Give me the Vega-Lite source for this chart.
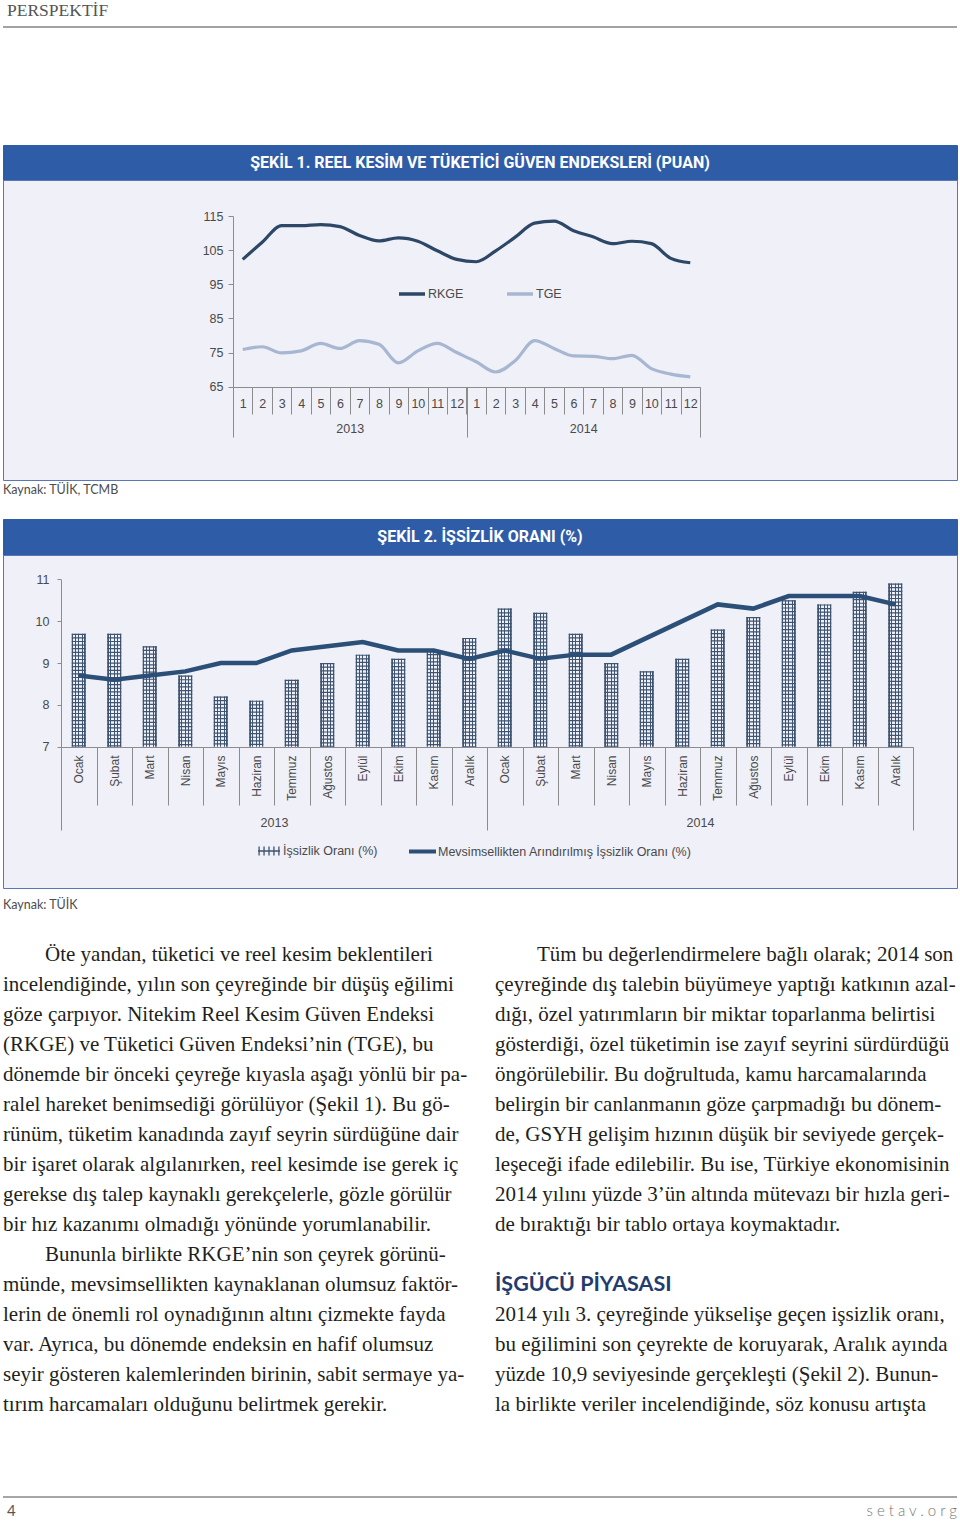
{
  "$schema": "https://vega.github.io/schema/vega-lite/v6.json",
  "background": "white",
  "padding": {"left": -4, "right": 0, "top": 0, "bottom": 0},
  "spacing": 0,
  "bounds": "flush",
  "resolve": {"scale": {"stroke": "independent", "opacity": "independent"}, "legend": {"stroke": "independent", "opacity": "independent"}},
  "config": {"view": {"stroke": null}, "font": "Liberation Sans"},
  "datasets": {
    "confidence": [
      {"month": "2013 1", "series": "RKGE", "value": 102.3},
      {"month": "2013 2", "series": "RKGE", "value": 107.3},
      {"month": "2013 3", "series": "RKGE", "value": 112.2},
      {"month": "2013 4", "series": "RKGE", "value": 112.2},
      {"month": "2013 5", "series": "RKGE", "value": 112.5},
      {"month": "2013 6", "series": "RKGE", "value": 111.9},
      {"month": "2013 7", "series": "RKGE", "value": 109.3},
      {"month": "2013 8", "series": "RKGE", "value": 107.7},
      {"month": "2013 9", "series": "RKGE", "value": 108.6},
      {"month": "2013 10", "series": "RKGE", "value": 107.6},
      {"month": "2013 11", "series": "RKGE", "value": 104.8},
      {"month": "2013 12", "series": "RKGE", "value": 102.3},
      {"month": "2014 1", "series": "RKGE", "value": 101.6},
      {"month": "2014 2", "series": "RKGE", "value": 104.8},
      {"month": "2014 3", "series": "RKGE", "value": 108.8},
      {"month": "2014 4", "series": "RKGE", "value": 112.9},
      {"month": "2014 5", "series": "RKGE", "value": 113.5},
      {"month": "2014 6", "series": "RKGE", "value": 110.7},
      {"month": "2014 7", "series": "RKGE", "value": 108.9},
      {"month": "2014 8", "series": "RKGE", "value": 106.9},
      {"month": "2014 9", "series": "RKGE", "value": 107.6},
      {"month": "2014 10", "series": "RKGE", "value": 106.9},
      {"month": "2014 11", "series": "RKGE", "value": 102.6},
      {"month": "2014 12", "series": "RKGE", "value": 101.3},
      {"month": "2013 1", "series": "TGE", "value": 75.9},
      {"month": "2013 2", "series": "TGE", "value": 76.7},
      {"month": "2013 3", "series": "TGE", "value": 74.9},
      {"month": "2013 4", "series": "TGE", "value": 75.5},
      {"month": "2013 5", "series": "TGE", "value": 77.7},
      {"month": "2013 6", "series": "TGE", "value": 76.2},
      {"month": "2013 7", "series": "TGE", "value": 78.5},
      {"month": "2013 8", "series": "TGE", "value": 77.4},
      {"month": "2013 9", "series": "TGE", "value": 72.0},
      {"month": "2013 10", "series": "TGE", "value": 75.5},
      {"month": "2013 11", "series": "TGE", "value": 77.7},
      {"month": "2013 12", "series": "TGE", "value": 75.0},
      {"month": "2014 1", "series": "TGE", "value": 72.3},
      {"month": "2014 2", "series": "TGE", "value": 69.3},
      {"month": "2014 3", "series": "TGE", "value": 72.6},
      {"month": "2014 4", "series": "TGE", "value": 78.5},
      {"month": "2014 5", "series": "TGE", "value": 76.2},
      {"month": "2014 6", "series": "TGE", "value": 74.0},
      {"month": "2014 7", "series": "TGE", "value": 73.9},
      {"month": "2014 8", "series": "TGE", "value": 73.2},
      {"month": "2014 9", "series": "TGE", "value": 74.2},
      {"month": "2014 10", "series": "TGE", "value": 70.3},
      {"month": "2014 11", "series": "TGE", "value": 68.7},
      {"month": "2014 12", "series": "TGE", "value": 67.9}
    ],
    "unemployment": [
      {"month": "2013 Ocak", "rate": 9.7, "sa": 8.7},
      {"month": "2013 Şubat", "rate": 9.7, "sa": 8.6},
      {"month": "2013 Mart", "rate": 9.4, "sa": 8.7},
      {"month": "2013 Nisan", "rate": 8.7, "sa": 8.8},
      {"month": "2013 Mayıs", "rate": 8.2, "sa": 9.0},
      {"month": "2013 Haziran", "rate": 8.1, "sa": 9.0},
      {"month": "2013 Temmuz", "rate": 8.6, "sa": 9.3},
      {"month": "2013 Ağustos", "rate": 9.0, "sa": 9.4},
      {"month": "2013 Eylül", "rate": 9.2, "sa": 9.5},
      {"month": "2013 Ekim", "rate": 9.1, "sa": 9.3},
      {"month": "2013 Kasım", "rate": 9.3, "sa": 9.3},
      {"month": "2013 Aralık", "rate": 9.6, "sa": 9.1},
      {"month": "2014 Ocak", "rate": 10.3, "sa": 9.3},
      {"month": "2014 Şubat", "rate": 10.2, "sa": 9.1},
      {"month": "2014 Mart", "rate": 9.7, "sa": 9.2},
      {"month": "2014 Nisan", "rate": 9.0, "sa": 9.2},
      {"month": "2014 Mayıs", "rate": 8.8, "sa": 9.6},
      {"month": "2014 Haziran", "rate": 9.1, "sa": 10.0},
      {"month": "2014 Temmuz", "rate": 9.8, "sa": 10.4},
      {"month": "2014 Ağustos", "rate": 10.1, "sa": 10.3},
      {"month": "2014 Eylül", "rate": 10.5, "sa": 10.6},
      {"month": "2014 Ekim", "rate": 10.4, "sa": 10.6},
      {"month": "2014 Kasım", "rate": 10.7, "sa": 10.6},
      {"month": "2014 Aralık", "rate": 10.9, "sa": 10.4}
    ],
    "article": [
      {"col": "L", "line": 0, "kind": "p", "text": "\u200b\u00a0\u00a0\u00a0\u00a0\u00a0\u00a0\u00a0\u00a0Öte yandan, tüketici ve reel kesim beklentileri"},
      {"col": "L", "line": 1, "kind": "p", "text": "incelendiğinde, yılın son çeyreğinde bir düşüş eğilimi"},
      {"col": "L", "line": 2, "kind": "p", "text": "göze çarpıyor. Nitekim Reel Kesim Güven Endeksi"},
      {"col": "L", "line": 3, "kind": "p", "text": "(RKGE) ve Tüketici Güven Endeksi’nin (TGE), bu"},
      {"col": "L", "line": 4, "kind": "p", "text": "dönemde bir önceki çeyreğe kıyasla aşağı yönlü bir pa-"},
      {"col": "L", "line": 5, "kind": "p", "text": "ralel hareket benimsediği görülüyor (Şekil 1). Bu gö-"},
      {"col": "L", "line": 6, "kind": "p", "text": "rünüm, tüketim kanadında zayıf seyrin sürdüğüne dair"},
      {"col": "L", "line": 7, "kind": "p", "text": "bir işaret olarak algılanırken, reel kesimde ise gerek iç"},
      {"col": "L", "line": 8, "kind": "p", "text": "gerekse dış talep kaynaklı gerekçelerle, gözle görülür"},
      {"col": "L", "line": 9, "kind": "p", "text": "bir hız kazanımı olmadığı yönünde yorumlanabilir."},
      {"col": "L", "line": 10, "kind": "p", "text": "\u200b\u00a0\u00a0\u00a0\u00a0\u00a0\u00a0\u00a0\u00a0Bununla birlikte RKGE’nin son çeyrek görünü-"},
      {"col": "L", "line": 11, "kind": "p", "text": "münde, mevsimsellikten kaynaklanan olumsuz faktör-"},
      {"col": "L", "line": 12, "kind": "p", "text": "lerin de önemli rol oynadığının altını çizmekte fayda"},
      {"col": "L", "line": 13, "kind": "p", "text": "var. Ayrıca, bu dönemde endeksin en hafif olumsuz"},
      {"col": "L", "line": 14, "kind": "p", "text": "seyir gösteren kalemlerinden birinin, sabit sermaye ya-"},
      {"col": "L", "line": 15, "kind": "p", "text": "tırım harcamaları olduğunu belirtmek gerekir."},
      {"col": "R", "line": 0, "kind": "p", "text": "\u200b\u00a0\u00a0\u00a0\u00a0\u00a0\u00a0\u00a0\u00a0Tüm bu değerlendirmelere bağlı olarak; 2014 son"},
      {"col": "R", "line": 1, "kind": "p", "text": "çeyreğinde dış talebin büyümeye yaptığı katkının azal-"},
      {"col": "R", "line": 2, "kind": "p", "text": "dığı, özel yatırımların bir miktar toparlanma belirtisi"},
      {"col": "R", "line": 3, "kind": "p", "text": "gösterdiği, özel tüketimin ise zayıf seyrini sürdürdüğü"},
      {"col": "R", "line": 4, "kind": "p", "text": "öngörülebilir. Bu doğrultuda, kamu harcamalarında"},
      {"col": "R", "line": 5, "kind": "p", "text": "belirgin bir canlanmanın göze çarpmadığı bu dönem-"},
      {"col": "R", "line": 6, "kind": "p", "text": "de, GSYH gelişim hızının düşük bir seviyede gerçek-"},
      {"col": "R", "line": 7, "kind": "p", "text": "leşeceği ifade edilebilir. Bu ise, Türkiye ekonomisinin"},
      {"col": "R", "line": 8, "kind": "p", "text": "2014 yılını yüzde 3’ün altında mütevazı bir hızla geri-"},
      {"col": "R", "line": 9, "kind": "p", "text": "de bıraktığı bir tablo ortaya koymaktadır."},
      {"col": "R", "line": 11, "kind": "h", "text": "İŞGÜCÜ PİYASASI"},
      {"col": "R", "line": 12, "kind": "p", "text": "2014 yılı 3. çeyreğinde yükselişe geçen işsizlik oranı,"},
      {"col": "R", "line": 13, "kind": "p", "text": "bu eğilimini son çeyrekte de koruyarak, Aralık ayında"},
      {"col": "R", "line": 14, "kind": "p", "text": "yüzde 10,9 seviyesinde gerçekleşti (Şekil 2). Bunun-"},
      {"col": "R", "line": 15, "kind": "p", "text": "la birlikte veriler incelendiğinde, söz konusu artışta"}
    ]
  },
  "vconcat": [
    {
      "width": 954, "height": 22,
      "data": {"values": [{"t": "PERSPEKTİF"}]},
      "mark": {"type": "text", "align": "left", "baseline": "middle", "font": "Liberation Serif", "fontSize": 17.5, "color": "#555555", "dx": 4},
      "encoding": {"text": {"field": "t"}, "x": {"value": 0}}
    },
    {"width": 954, "height": 4, "data": {"values": []}, "mark": "text"},
    {"width": 954, "height": 2, "view": {"fill": "#a3a3a3", "stroke": null}, "data": {"values": []}, "mark": "text"},
    {"width": 954, "height": 117, "data": {"values": []}, "mark": "text"},
    {
      "width": 954, "height": 35,
      "view": {"fill": "#2f5ca7", "stroke": "#2f5ca7"},
      "data": {"values": [{"t": "ŞEKİL 1. REEL KESİM VE TÜKETİCİ GÜVEN ENDEKSLERİ (PUAN)"}]},
      "mark": {"type": "text", "font": "Liberation Sans Narrow, Roboto, sans-serif", "fontWeight": "bold", "fontSize": 16, "color": "white", "baseline": "middle"},
      "encoding": {"text": {"field": "t"}}
    },
    {
      "width": 954, "height": 300,
      "view": {"fill": "#eff0f8", "stroke": "#5877b4", "strokeWidth": 1},
      "layer": [
        {
          "data": {"name": "confidence"},
          "mark": {"type": "line", "strokeWidth": 3.2, "interpolate": "monotone"},
          "encoding": {
            "x": {
              "field": "month", "type": "ordinal", "sort": null,
              "scale": {"type": "band", "range": [230, 697], "paddingInner": 0, "paddingOuter": 0},
              "axis": {"orient": "bottom", "offset": -93, "title": null, "labelAngle": 0, "tickBand": "extent", "tickSize": 27, "labelPadding": -11, "labelBaseline": "middle", "labelExpr": "split(datum.value, ' ')[1]", "domainColor": "#8c8c8c", "tickColor": "#8c8c8c", "labelColor": "#4a4a4a", "labelFont": "Liberation Sans", "labelFontSize": 12.5, "grid": false}
            },
            "y": {
              "field": "value", "type": "quantitative",
              "scale": {"domain": [65, 115], "range": [206.7, 36], "nice": false, "zero": false},
              "axis": {"orient": "left", "offset": -230, "title": null, "values": [65, 75, 85, 95, 105, 115], "tickSize": 5, "labelPadding": 5, "domainColor": "#8c8c8c", "tickColor": "#8c8c8c", "labelColor": "#4a4a4a", "labelFont": "Liberation Sans", "labelFontSize": 12.5, "grid": false}
            },
            "stroke": {
              "field": "series", "type": "nominal",
              "scale": {"domain": ["RKGE", "TGE"], "range": ["#2d4767", "#a8b7d1"]},
              "legend": {"orient": "none", "legendX": 394, "legendY": 99, "direction": "horizontal", "title": null, "symbolType": "stroke", "symbolSize": 676, "symbolStrokeWidth": 3.5, "labelFont": "Liberation Sans", "labelFontSize": 12.5, "labelColor": "#4a4a4a", "labelOffset": 1, "columnPadding": 36, "padding": 0}
            }
          }
        },
        {
          "data": {"values": [{"year": "2013"}, {"year": "2014"}]},
          "mark": {"type": "tick", "opacity": 0},
          "encoding": {
            "x": {
              "field": "year", "type": "ordinal",
              "scale": {"type": "band", "range": [230, 697], "paddingInner": 0, "paddingOuter": 0},
              "axis": {"orient": "bottom", "offset": -93, "title": null, "domain": false, "labelAngle": 0, "tickBand": "extent", "tickSize": 50, "labelPadding": -9, "labelBaseline": "middle", "tickColor": "#8c8c8c", "labelColor": "#4a4a4a", "labelFont": "Liberation Sans", "labelFontSize": 12.5}
            }
          }
        }
      ],
      "resolve": {"scale": {"x": "independent"}}
    },
    {
      "width": 954, "height": 20,
      "data": {"values": [{"t": "Kaynak: TÜİK, TCMB"}]},
      "mark": {"type": "text", "align": "left", "baseline": "middle", "font": "Lato", "fontSize": 12.5, "color": "#4d4d4d"},
      "encoding": {"text": {"field": "t"}, "x": {"value": 0}}
    },
    {"width": 954, "height": 19, "data": {"values": []}, "mark": "text"},
    {
      "width": 954, "height": 36,
      "view": {"fill": "#2f5ca7", "stroke": "#2f5ca7"},
      "data": {"values": [{"t": "ŞEKİL 2. İŞSİZLİK ORANI (%)"}]},
      "mark": {"type": "text", "font": "Liberation Sans Narrow, Roboto, sans-serif", "fontWeight": "bold", "fontSize": 16, "color": "white", "baseline": "middle"},
      "encoding": {"text": {"field": "t"}}
    },
    {
      "width": 954, "height": 333,
      "view": {"fill": "#eff0f8", "stroke": "#5877b4", "strokeWidth": 1},
      "layer": [
        {
          "data": {"name": "unemployment"},
          "encoding": {
            "x": {
              "field": "month", "type": "ordinal", "sort": null,
              "scale": {"type": "band", "range": [58, 910], "paddingInner": 0, "paddingOuter": 0},
              "axis": {"orient": "bottom", "offset": -141, "title": null, "labelAngle": -90, "tickBand": "extent", "tickSize": 58, "labelPadding": -50, "labelExpr": "split(datum.value, ' ')[1]", "domainColor": "#8c8c8c", "tickColor": "#8c8c8c", "labelColor": "#4a4a4a", "labelFont": "Liberation Sans", "labelFontSize": 12, "grid": false}
            }
          },
          "layer": [
            {
              "mark": {"type": "bar", "width": 14, "fill": {"gradient": "linear", "x1": 0, "y1": 0, "x2": 1, "y2": 0, "stops": [
                {"offset": 0, "color": "#3e5470"}, {"offset": 0.09, "color": "#3e5470"},
                {"offset": 0.09, "color": "rgba(255,255,255,0)"}, {"offset": 0.2, "color": "rgba(255,255,255,0)"},
                {"offset": 0.2, "color": "#3e5470"}, {"offset": 0.29, "color": "#3e5470"},
                {"offset": 0.29, "color": "rgba(255,255,255,0)"}, {"offset": 0.455, "color": "rgba(255,255,255,0)"},
                {"offset": 0.455, "color": "#3e5470"}, {"offset": 0.545, "color": "#3e5470"},
                {"offset": 0.545, "color": "rgba(255,255,255,0)"}, {"offset": 0.71, "color": "rgba(255,255,255,0)"},
                {"offset": 0.71, "color": "#3e5470"}, {"offset": 0.8, "color": "#3e5470"},
                {"offset": 0.8, "color": "rgba(255,255,255,0)"}, {"offset": 0.91, "color": "rgba(255,255,255,0)"},
                {"offset": 0.91, "color": "#3e5470"}, {"offset": 1, "color": "#3e5470"}
              ]}},
              "encoding": {
                "y": {
                  "field": "rate", "type": "quantitative",
                  "scale": {"domain": [7, 11], "range": [191.7, 24.3], "nice": false, "zero": false},
                  "axis": {"orient": "left", "offset": -58, "title": null, "values": [7, 8, 9, 10, 11], "format": "d", "tickSize": 4, "labelPadding": 8, "domainColor": "#8c8c8c", "tickColor": "#8c8c8c", "labelColor": "#4a4a4a", "labelFont": "Liberation Sans", "labelFontSize": 12.5, "grid": false}
                },
                "y2": {"datum": 7}
              }
            },
            {
              "mark": {"type": "rule", "strokeWidth": 14, "strokeDash": [1.2, 2.4], "color": "#3e5470"},
              "encoding": {
                "y": {"field": "rate", "type": "quantitative"},
                "y2": {"datum": 7},
                "opacity": {
                  "datum": "İşsizlik Oranı (%)", "type": "ordinal",
                  "scale": {"domain": ["İşsizlik Oranı (%)"], "range": [1, 1]},
                  "legend": {"orient": "none", "legendX": 254, "legendY": 284, "title": null, "symbolType": "M-1,0H1M-0.9,-0.4V0.4M-0.45,-0.4V0.4M0,-0.4V0.4M0.45,-0.4V0.4M0.9,-0.4V0.4", "symbolSize": 484, "symbolStrokeColor": "#3e5470", "symbolFillColor": "transparent", "symbolStrokeWidth": 1.3, "labelFont": "Liberation Sans", "labelFontSize": 12.5, "labelColor": "#4a4a4a", "labelOffset": 2, "labelLimit": 400, "padding": 0}
                }
              }
            },
            {
              "mark": {"type": "line", "strokeWidth": 4.5},
              "encoding": {
                "y": {"field": "sa", "type": "quantitative"},
                "stroke": {
                  "datum": "Mevsimsellikten Arındırılmış İşsizlik Oranı (%)", "type": "nominal",
                  "scale": {"range": ["#2c4f77"]},
                  "legend": {"orient": "none", "legendX": 404, "legendY": 281, "title": null, "symbolType": "stroke", "symbolSize": 729, "symbolStrokeWidth": 4, "labelFont": "Liberation Sans", "labelFontSize": 12.5, "labelColor": "#4a4a4a", "labelOffset": 0, "labelLimit": 400, "padding": 0}
                }
              }
            }
          ]
        },
        {
          "data": {"values": [{"year": "2013"}, {"year": "2014"}]},
          "mark": {"type": "tick", "opacity": 0},
          "encoding": {
            "x": {
              "field": "year", "type": "ordinal",
              "scale": {"type": "band", "range": [58, 910], "paddingInner": 0, "paddingOuter": 0},
              "axis": {"orient": "bottom", "offset": -141, "title": null, "domain": false, "labelAngle": 0, "tickBand": "extent", "tickSize": 83, "labelPadding": -8, "labelBaseline": "middle", "tickColor": "#8c8c8c", "labelColor": "#4a4a4a", "labelFont": "Liberation Sans", "labelFontSize": 12.5}
            }
          }
        }
      ],
      "resolve": {"scale": {"x": "independent"}}
    },
    {
      "width": 954, "height": 34,
      "data": {"values": [{"t": "Kaynak: TÜİK"}]},
      "mark": {"type": "text", "align": "left", "baseline": "middle", "font": "Lato", "fontSize": 12.5, "color": "#4d4d4d"},
      "encoding": {"text": {"field": "t"}, "x": {"value": 0}}
    },
    {
      "width": 954, "height": 574,
      "data": {"name": "article"},
      "encoding": {
        "x": {"field": "col", "type": "ordinal", "scale": {"type": "point", "domain": ["L", "R"], "range": [0, 492], "padding": 0}, "axis": null},
        "y": {"field": "line", "type": "quantitative", "scale": {"domain": [0, 15], "range": [33, 483], "nice": false, "zero": false}, "axis": null},
        "text": {"field": "text"}
      },
      "layer": [
        {
          "transform": [{"filter": "datum.kind == 'p'"}],
          "mark": {"type": "text", "align": "left", "baseline": "middle", "font": "Liberation Serif", "fontSize": 21, "color": "#231f20"}
        },
        {
          "transform": [{"filter": "datum.kind == 'h'"}],
          "mark": {"type": "text", "align": "left", "baseline": "middle", "font": "Lato", "fontWeight": "bold", "fontSize": 21.5, "color": "#223c6e"}
        }
      ]
    },
    {"width": 954, "height": 2, "view": {"fill": "#a6a6a6", "stroke": null}, "data": {"values": []}, "mark": "text"},
    {
      "width": 954, "height": 26,
      "layer": [
        {
          "data": {"values": [{"t": "4"}]},
          "mark": {"type": "text", "align": "left", "baseline": "middle", "font": "Lato", "fontSize": 15, "color": "#555555", "dx": 4},
          "encoding": {"text": {"field": "t"}, "x": {"value": 0}}
        },
        {
          "data": {"values": [{"t": "s e t a v . o r g"}]},
          "mark": {"type": "text", "align": "right", "baseline": "middle", "font": "Lato", "fontWeight": 300, "fontSize": 15, "color": "#777777"},
          "encoding": {"text": {"field": "t"}, "x": {"value": "width"}}
        }
      ]
    }
  ]
}
